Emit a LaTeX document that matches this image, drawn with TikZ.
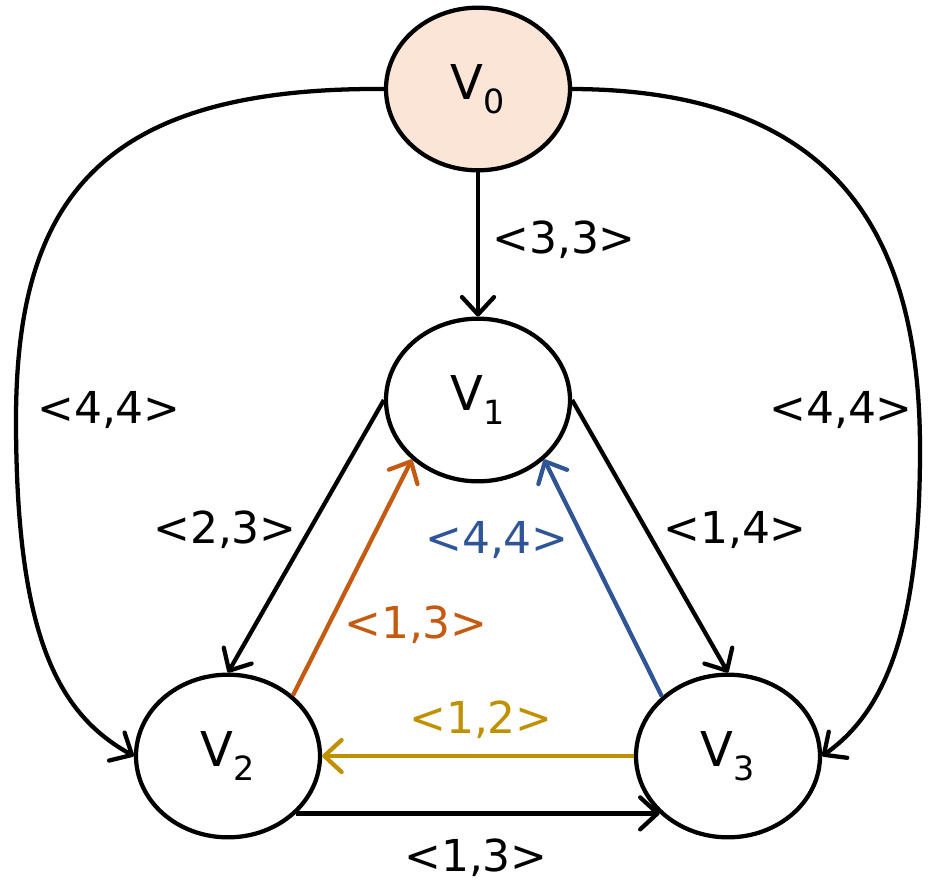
\documentclass[tikz,border=0pt]{standalone}
\usepackage{fontspec}
\setmainfont{DejaVu Sans}
\usetikzlibrary{shapes.geometric,arrows.meta}
\definecolor{vfill}{HTML}{FBE5D6}
\definecolor{eorange}{HTML}{C55A11}
\definecolor{eblue}{HTML}{2F5597}
\definecolor{egold}{HTML}{BF9000}
\newcommand{\vlab}[1]{{\fontsize{36}{40}\selectfont V\raisebox{-0.3em}{\fontsize{25}{28}\selectfont #1}}}
\begin{document}
\begin{tikzpicture}[x=0.75pt,y=-0.75pt,
  vert/.style={ellipse,draw,line width=3.2pt,minimum width=138pt,minimum height=122pt,inner sep=0pt,fill=white},
  edge/.style={line width=3.2pt,-{Straight Barb[length=13pt,width=24pt,round]}},
  lab/.style={font=\fontsize{33}{38}\selectfont,inner sep=0pt}]
\useasboundingbox (0,0) rectangle (935,894);
\node[vert,fill=vfill] (V0) at (478,89) {\vlab{0}};
\node[vert] (V1) at (478,400) {\vlab{1}};
\node[vert] (V2) at (228,756) {\vlab{2}};
\node[vert] (V3) at (728,756) {\vlab{3}};
% edges
\draw[edge] (V0.south) -- (V1.north);
\draw[edge] (V0.west) .. controls (100,87) and (16,200) .. (16,420) .. controls (16,640) and (60,715) .. (V2.west);
\draw[edge] (V0.east) .. controls (850,90) and (920,250) .. (920,450) .. controls (920,640) and (880,715) .. (V3.east);
\draw[edge] (V1.west) -- (V2.north);
\draw[edge] (V1.east) -- (V3.north);
\draw[edge,eorange] (V2.43) -- (V1.222);
\draw[edge,eblue] (V3.138) -- (V1.318);
\draw[edge,egold] (V3.west) -- (V2.east);
\draw[edge] (V2.-40) -- (V3.220);
% labels
\node[lab] (l01) at (564,240) {<3,3>};
\node[lab] (l02) at (109,410) {<4,4>};
\node[lab] (l03) at (841,410) {<4,4>};
\node[lab] (l12) at (225,530) {<2,3>};
\node[lab] (l13) at (735,530) {<1,4>};
\node[lab,text=eblue] (l31) at (497,540) {<4,4>};
\node[lab,text=eorange] (l21) at (416,625) {<1,3>};
\node[lab,text=egold] (l32) at (481,720) {<1,2>};
\node[lab] (l23) at (476,858) {<1,3>};
\end{tikzpicture}
\end{document}
